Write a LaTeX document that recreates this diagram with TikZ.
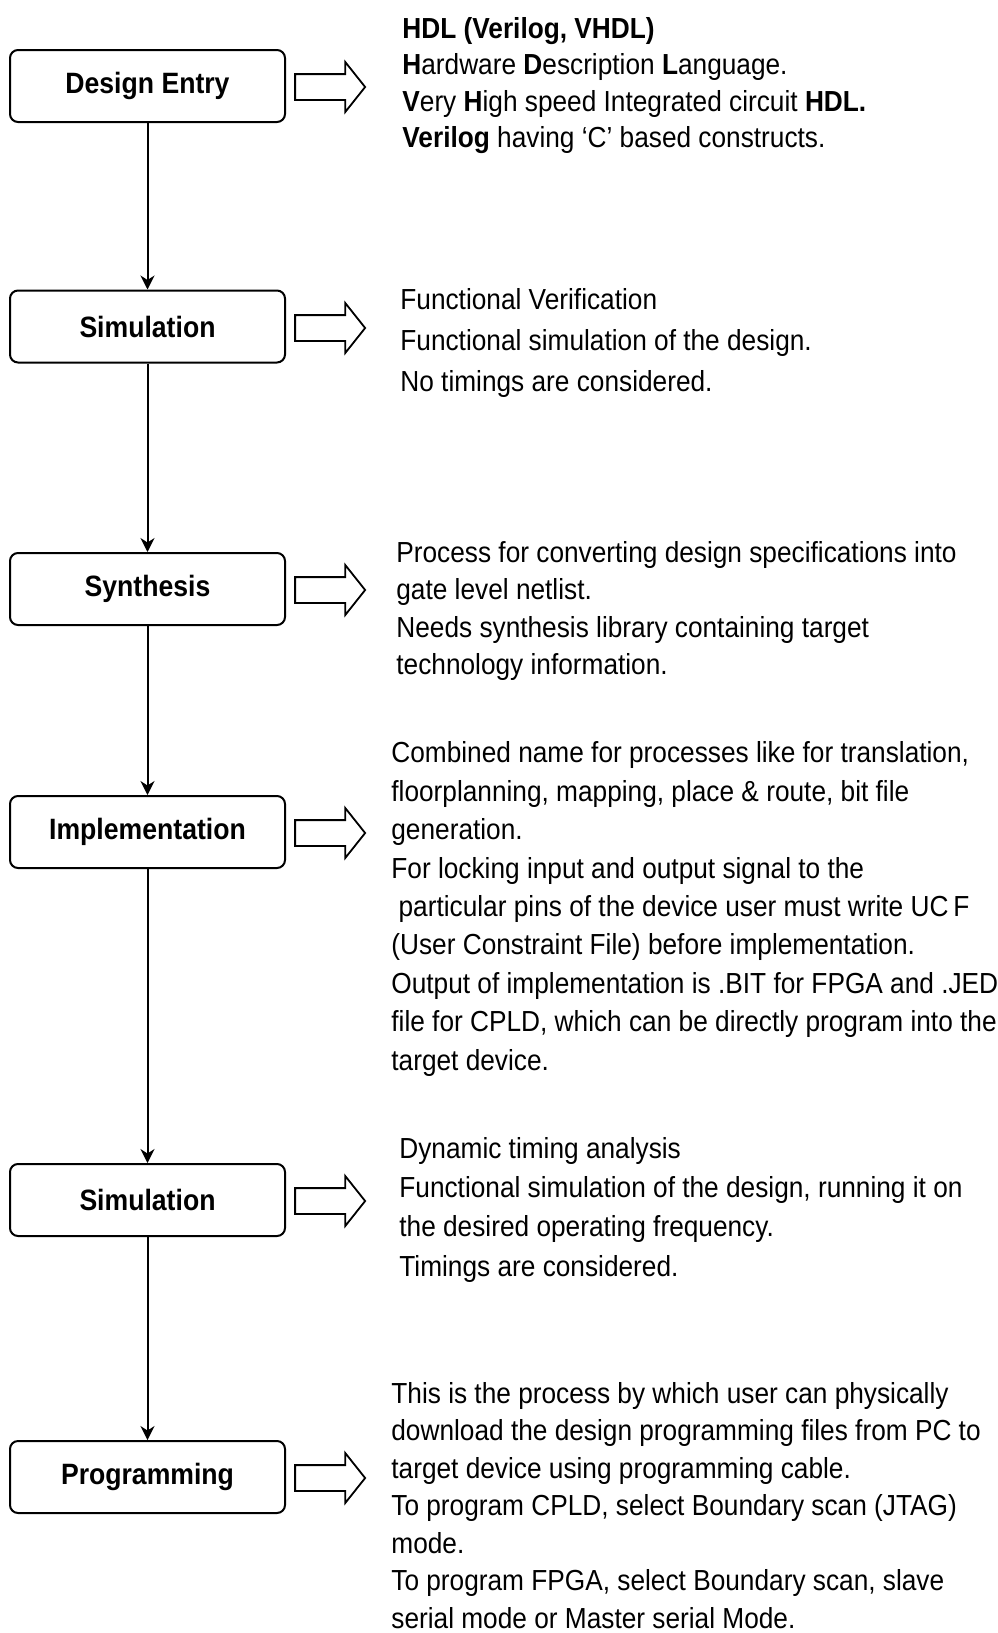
\documentclass[tikz,border=0pt]{standalone}
\usepackage{fontspec}
\setmainfont{Liberation Sans}[FakeStretch=0.905]
\usetikzlibrary{arrows.meta,shapes.arrows}

\tikzstyle{stage}=[draw=black,line width=1pt,rounded corners=4pt,
                   minimum width=137.5pt,minimum height=36pt,
                   font=\fontsize{14.7}{18}\selectfont\bfseries]
\tikzstyle{hollow}=[single arrow,draw=black,line width=0.9pt,
                    minimum height=35pt,text height=6pt,text depth=6pt,
                    single arrow head extend=6pt,inner sep=0pt,
                    single arrow tip angle=103]
\tikzstyle{flow}=[line width=1pt,-{Stealth[length=7pt,width=7pt]}]
\tikzstyle{desc}=[anchor=base west,align=left,inner sep=0pt]

\begin{document}
\begin{tikzpicture}[x=0.5pt,y=-0.5pt]
    \useasboundingbox (0,0) rectangle (997,1633);
    % design flow, one box per step
    \node (entry) at (147.5,86)   [stage]{Design Entry};
    \node (sim)   at (147.5,326.5)[stage]{Simulation};
    \node (synth) at (147.5,589)  [stage]{Synthesis};
    \node (impl)  at (147.5,832)  [stage]{Implementation};
    \node (tsim)  at (147.5,1200) [stage]{Simulation};
    \node (prog)  at (147.5,1477) [stage]{Programming};
    \draw[flow] (entry) -- (sim);
    \draw[flow] (sim) -- (synth);
    \draw[flow] (synth) -- (impl);
    \draw[flow] (impl) -- (tsim);
    \draw[flow] (tsim) -- (prog);
    % block arrows pointing at the notes
    \node (ar1) at (325,87)   [hollow]{};
    \node (ar2) at (325,328)  [hollow]{};
    \node (ar3) at (325,590)  [hollow]{};
    \node (ar4) at (325,833)  [hollow]{};
    \node (ar5) at (325,1201) [hollow]{};
    \node (ar6) at (325,1478) [hollow]{};
    % notes (anchored at the baseline of their last line)
    \node (n1) at (402,147.5) [desc,font=\fontsize{14.5}{18.25}\selectfont]{%
      \textbf{HDL (Verilog, VHDL)}\\
      \textbf{H}ardware \textbf{D}escription \textbf{L}anguage.\\
      \textbf{V}ery \textbf{H}igh speed Integrated circuit \textbf{HDL.}\\
      \textbf{Verilog} having ‘C’ based constructs.};
    \node (n2) at (400,391) [desc,font=\fontsize{14.5}{20.5}\selectfont]{%
      Functional Verification\\
      Functional simulation of the design.\\
      No timings are considered.};
    \node (n3) at (396,674.5) [desc,font=\fontsize{14.5}{18.75}\selectfont]{%
      Process for converting design specifications into\\
      gate level netlist.\\
      Needs synthesis library containing target\\
      technology information.};
    \node (n4) at (391,1070) [desc,font=\fontsize{14.5}{19.2}\selectfont]{%
      Combined name for processes like for translation,\\
      floorplanning, mapping, place \& route, bit file\\
      generation.\\
      For locking input and output signal to the\\
      \hspace{0.25em}particular pins of the device user must write UC\,F\\
      (User Constraint File) before implementation.\\
      Output of implementation is .BIT for FPGA and .JED\\
      file for CPLD, which can be directly program into the\\
      target device.};
    \node (n5) at (399,1276) [desc,font=\fontsize{14.5}{19.6}\selectfont]{%
      Dynamic timing analysis\\
      Functional simulation of the design, running it on\\
      the desired operating frequency.\\
      Timings are considered.};
    \node (n6) at (391,1628) [desc,font=\fontsize{14.5}{18.75}\selectfont]{%
      This is the process by which user can physically\\
      download the design programming files from PC to\\
      target device using programming cable.\\
      To program CPLD, select Boundary scan (JTAG)\\
      mode.\\
      To program FPGA, select Boundary scan, slave\\
      serial mode or Master serial Mode.};
\end{tikzpicture}
\end{document}
